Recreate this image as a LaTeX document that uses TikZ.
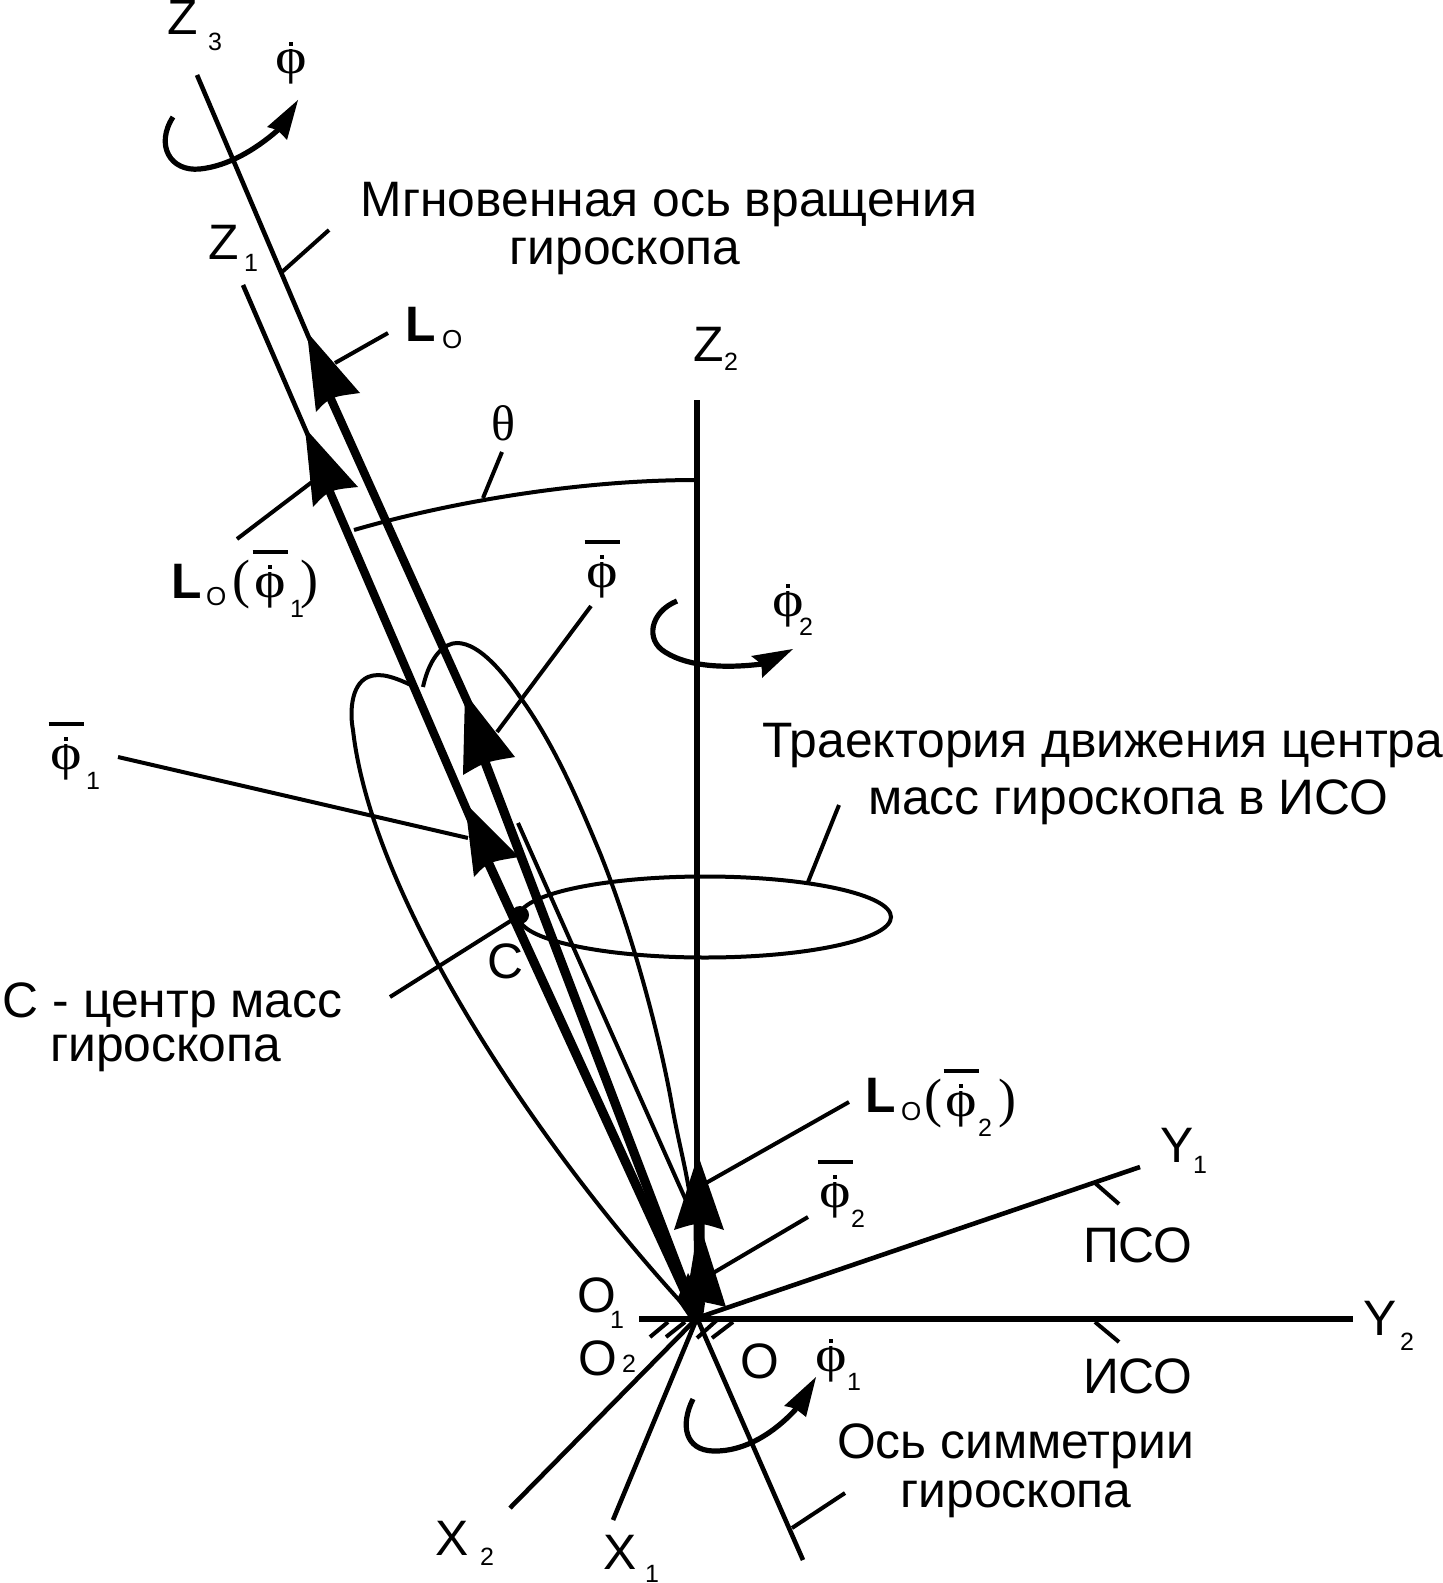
\documentclass[tikz,border=0pt]{standalone}
\usepackage{fontspec}
\setmainfont{Liberation Sans}
\newfontfamily\serf{Liberation Serif}
\newfontfamily\phif[FakeStretch=1.2]{Liberation Serif}
\newcommand\mainsz{\fontsize{24.9}{28}\selectfont}
\newcommand\subsz{\fontsize{12.5}{14}\selectfont}
\newcommand\osz{\fontsize{13}{15}\selectfont}
\newcommand\phisz{\fontsize{25}{28}\selectfont\phif}
\newcommand\phidot{\hbox to\wd0{\hss\raisebox{12.4pt}{\textcolor{white}{\rule{5pt}{7pt}}}\hss}\kern-\wd0\hbox to\wd0{\hss\raisebox{14pt}{\rule{2pt}{2pt}}\hss}}
\newcommand\dotphi{\hbox{\phisz\setbox0\hbox{ϕ}\copy0\kern-\wd0\phidot}}
\newcommand\barphi{\hbox{\phisz\setbox0\hbox{ϕ}\copy0\kern-\wd0\phidot\kern-\wd0\hbox to\wd0{\hss\raisebox{21.4pt}{\rule{17.5pt}{2.2pt}}\hss}}}
\newcommand\headfill[5]{%
  \coordinate (#1tip) at #2; \coordinate (#1r) at #3; \coordinate (#1n) at #4; \coordinate (#1l) at #5;
  \fill (#1tip) -- (#1r) .. controls (#1n) and (#1n) .. (#1l) -- cycle;}
\tikzset{
  x=0.5pt,y=-0.5pt,
  axis/.style={line width=2.3pt},
  thinl/.style={line width=2pt},
  thick1/.style={line width=4.2pt},
  thick2/.style={line width=4.6pt},
  lead/.style={line width=2pt},
  lab/.style={inner sep=0pt,outer sep=0pt,anchor=base west,font=\mainsz},
  lbc/.style={inner sep=0pt,outer sep=0pt,anchor=base,font=\mainsz},
  bld/.style={inner sep=0pt,outer sep=0pt,anchor=base west,font=\mainsz\bfseries},
  sublab/.style={inner sep=0pt,outer sep=0pt,anchor=base west,font=\subsz},
  olab/.style={inner sep=0pt,outer sep=0pt,anchor=base west,font=\osz},
  par/.style={inner sep=0pt,outer sep=0pt,anchor=base west,font=\fontsize{27}{30}\selectfont\serf},
  sym/.style={inner sep=0pt,outer sep=0pt,anchor=base},
}
\begin{document}
\begin{tikzpicture}
\useasboundingbox (0,0) rectangle (1442,1583);
\coordinate (O) at (697,1318);
% heads
\headfill{a}{(307,332)}{(360,393)}{(330,397)}{(316,412)}
\headfill{b}{(305,428)}{(358,487)}{(329,490)}{(313,507)}
\headfill{c}{(465,693)}{(515,757)}{(485,762)}{(463,775)}
\headfill{d}{(465,803)}{(519,857)}{(488,862)}{(474,877)}
\headfill{e}{(698,1155)}{(724,1230)}{(699,1222)}{(674,1230)}
\headfill{f}{(699,1222)}{(726,1307)}{(705,1302)}{(686,1300)}
% axes
\coordinate (Z3end) at (197,75);
\coordinate (Z1end) at (243,285);
\coordinate (aIn) at (312,345);
\coordinate (bIn) at (310,440);
\coordinate (cIn) at (472,712);
\coordinate (dIn) at (472,822);
\draw[axis] (Z3end) -- (aIn);
\draw[axis] (Z1end) -- (bIn);
\draw[line width=3pt] (697,400) coordinate (Z2end) -- (O);
\draw[line width=2.6pt] (639,1319) coordinate (Y2a) -- (1353,1319) coordinate (Y2end);
\draw[axis] (O) -- (1140,1167) coordinate (Y1end);
\draw[axis] (O) -- (510,1508) coordinate (X2end);
\draw[axis] (O) -- (613,1520) coordinate (X1end);
\draw[axis] (O) -- (803,1560) coordinate (Send);
% thick vectors
\draw[thick1] (an) -- (cIn);
\draw[thick1] (bn) -- (dIn);
\draw[thick2] (cn) -- (O);
\draw[thick2] (dn) -- (O);
\draw[line width=5.5pt] (en) -- (700,1300);
\fill (677,1300) -- (692,1322) -- (703,1317) -- (705,1303) -- (688,1273) -- cycle;
% thin branch and curves
\draw[thinl] (518,823) -- (688,1205);
\draw[thinl] (417,688) .. controls (395,677) and (380,672) .. (368,677)
  .. controls (350,685) and (350,715) .. (353,730)
  .. controls (372,900) and (540,1150) .. (690,1312);
\draw[thinl] (423,687) .. controls (430,655) and (445,643) .. (457,643)
  .. controls (480,643) and (505,675) .. (520,697)
  .. controls (555,745) and (580,805) .. (600,853)
  .. controls (635,940) and (660,1040) .. (671,1100)
  .. controls (678,1140) and (684,1160) .. (689,1190);
% trajectory
\draw[thinl] (705,917) ellipse [x radius=186, y radius=40.5];
\coordinate (Cpt) at (520,915);
\fill (Cpt) circle (9);
% theta arc
\draw[lead] (354,530) .. controls (440,505) and (570,480) .. (697,480);
\draw[lead] (483,498) -- (502,452);
% leaders
\draw[lead] (282,272) -- (329,230);
\draw[lead] (335,363) -- (388,333);
\draw[lead] (237,539) -- (312,482);
\draw[lead] (497,732) -- (591,606);
\draw[lead] (118,757) -- (468,838);
\draw[lead] (390,997) -- (Cpt);
\draw[lead] (808,882) -- (839,805);
\draw[lead] (706,1183) -- (849,1102);
\draw[lead] (708,1276) -- (808,1217);
\draw[lead] (1095,1183) -- (1119,1204);
\draw[lead] (1095,1322) -- (1119,1342);
\draw[lead] (792,1528) -- (845,1493);
% hatching at the base
\draw[lead] (650,1337) -- (668,1322);
\draw[lead] (666,1337) -- (685,1322);
\draw[lead] (697,1338) -- (717,1320);
\draw[lead] (712,1338) -- (733,1322);
% rotation arrows
\draw[line width=2.6pt] (173,117) .. controls (155,145) and (170,172) .. (200,169) .. controls (228,166) and (255,150) .. (278,130);
\headfill{g}{(298,100)}{(287,140)}{(278,130)}{(267,127)}
\draw[line width=2.6pt] (677,601) .. controls (650,612) and (645,640) .. (665,652) .. controls (690,668) and (730,668) .. (762,664);
\headfill{h}{(793,649)}{(762,678)}{(762,664)}{(751,656)}
\draw[line width=2.6pt] (693,1399) .. controls (680,1425) and (685,1450) .. (713,1451) .. controls (745,1452) and (775,1432) .. (796,1409);
\headfill{i}{(816,1377)}{(806,1417)}{(795,1408)}{(784,1406)}
% labels
\node[lab] (tZ3) at (167,35) {Z}; \node[sublab] (tZ3s) at (208,51) {3};
\node[sym] (tphi) at (291,74) {\dotphi};
\node[lab] (tZ1) at (208,260) {Z}; \node[sublab] (tZ1s) at (244,272) {1};
\node[lab] (tZ2) at (693,362) {Z}; \node[sublab] (tZ2s) at (724,371) {2};
\node[lbc] (tm1) at (669,217) {Мгновенная ось вращения};
\node[lbc] (tm2) at (625,265) {гироскопа};
\node[bld] (tL) at (405,342) {L}; \node[olab] (tLo) at (442,349) {O};
\node[sym,font=\fontsize{25}{28}\selectfont\serf] (tth) at (503,440) {θ};
\node[bld] (tL1) at (171,598) {L}; \node[olab] (tL1o) at (206,605) {O};
\node[par] (tL1a) at (232,597) {(};
\node[sym] (tL1p) at (270,597) {\barphi};
\node[sublab] (tL1s) at (290,617) {1};
\node[par] (tL1b) at (300,597) {)};
\node[sym] (tpb) at (602,587) {\barphi};
\node[sym] (tp2) at (788,616) {\dotphi}; \node[sublab] (tp2s) at (799,635) {2};
\node[lab] (ttr1) at (762,757) {Траектория движения центра};
\node[lab] (ttr2) at (868,814) {масс гироскопа в ИСО};
\node[sym] (tb1) at (66,769) {\barphi}; \node[sublab] (tb1s) at (86,789) {1};
\node[lab] (tC) at (487,978) {C};
\node[lab] (tc1) at (3,1017) {С - центр масс};
\node[lab] (tc2) at (50,1061) {гироскопа};
\node[bld] (tL2) at (865,1112) {L}; \node[olab] (tL2o) at (901,1120) {O};
\node[par] (tL2a) at (924,1116) {(};
\node[sym] (tL2p) at (961,1116) {\barphi};
\node[sublab] (tL2s) at (978,1136) {2};
\node[par] (tL2b) at (998,1116) {)};
\node[lab] (tY1) at (1160,1162) {Y}; \node[sublab] (tY1s) at (1193,1173) {1};
\node[sym] (tb2) at (835,1207) {\barphi}; \node[sublab] (tb2s) at (851,1227) {2};
\node[lab] (tpso) at (1083,1262) {ПСО};
\node[lab] (tO1) at (577,1312) {O}; \node[sublab] (tO1s) at (610,1328) {1};
\node[lab] (tY2) at (1363,1335) {Y}; \node[sublab] (tY2s) at (1400,1350) {2};
\node[lab] (tO2) at (578,1375) {O}; \node[sublab] (tO2s) at (622,1372) {2};
\node[lab] (tO) at (740,1378) {O};
\node[sym] (tp1) at (831,1371) {\dotphi}; \node[sublab] (tp1s) at (847,1390) {1};
\node[lab] (tiso) at (1083,1393) {ИСО};
\node[lab] (tos1) at (837,1458) {Ось симметрии};
\node[lbc] (tos2) at (1016,1507) {гироскопа};
\node[lab] (tX2) at (435,1555) {X}; \node[sublab] (tX2s) at (480,1565) {2};
\node[lab] (tX1) at (603,1569) {X}; \node[sublab] (tX1s) at (645,1582) {1};
\end{tikzpicture}
\end{document}
